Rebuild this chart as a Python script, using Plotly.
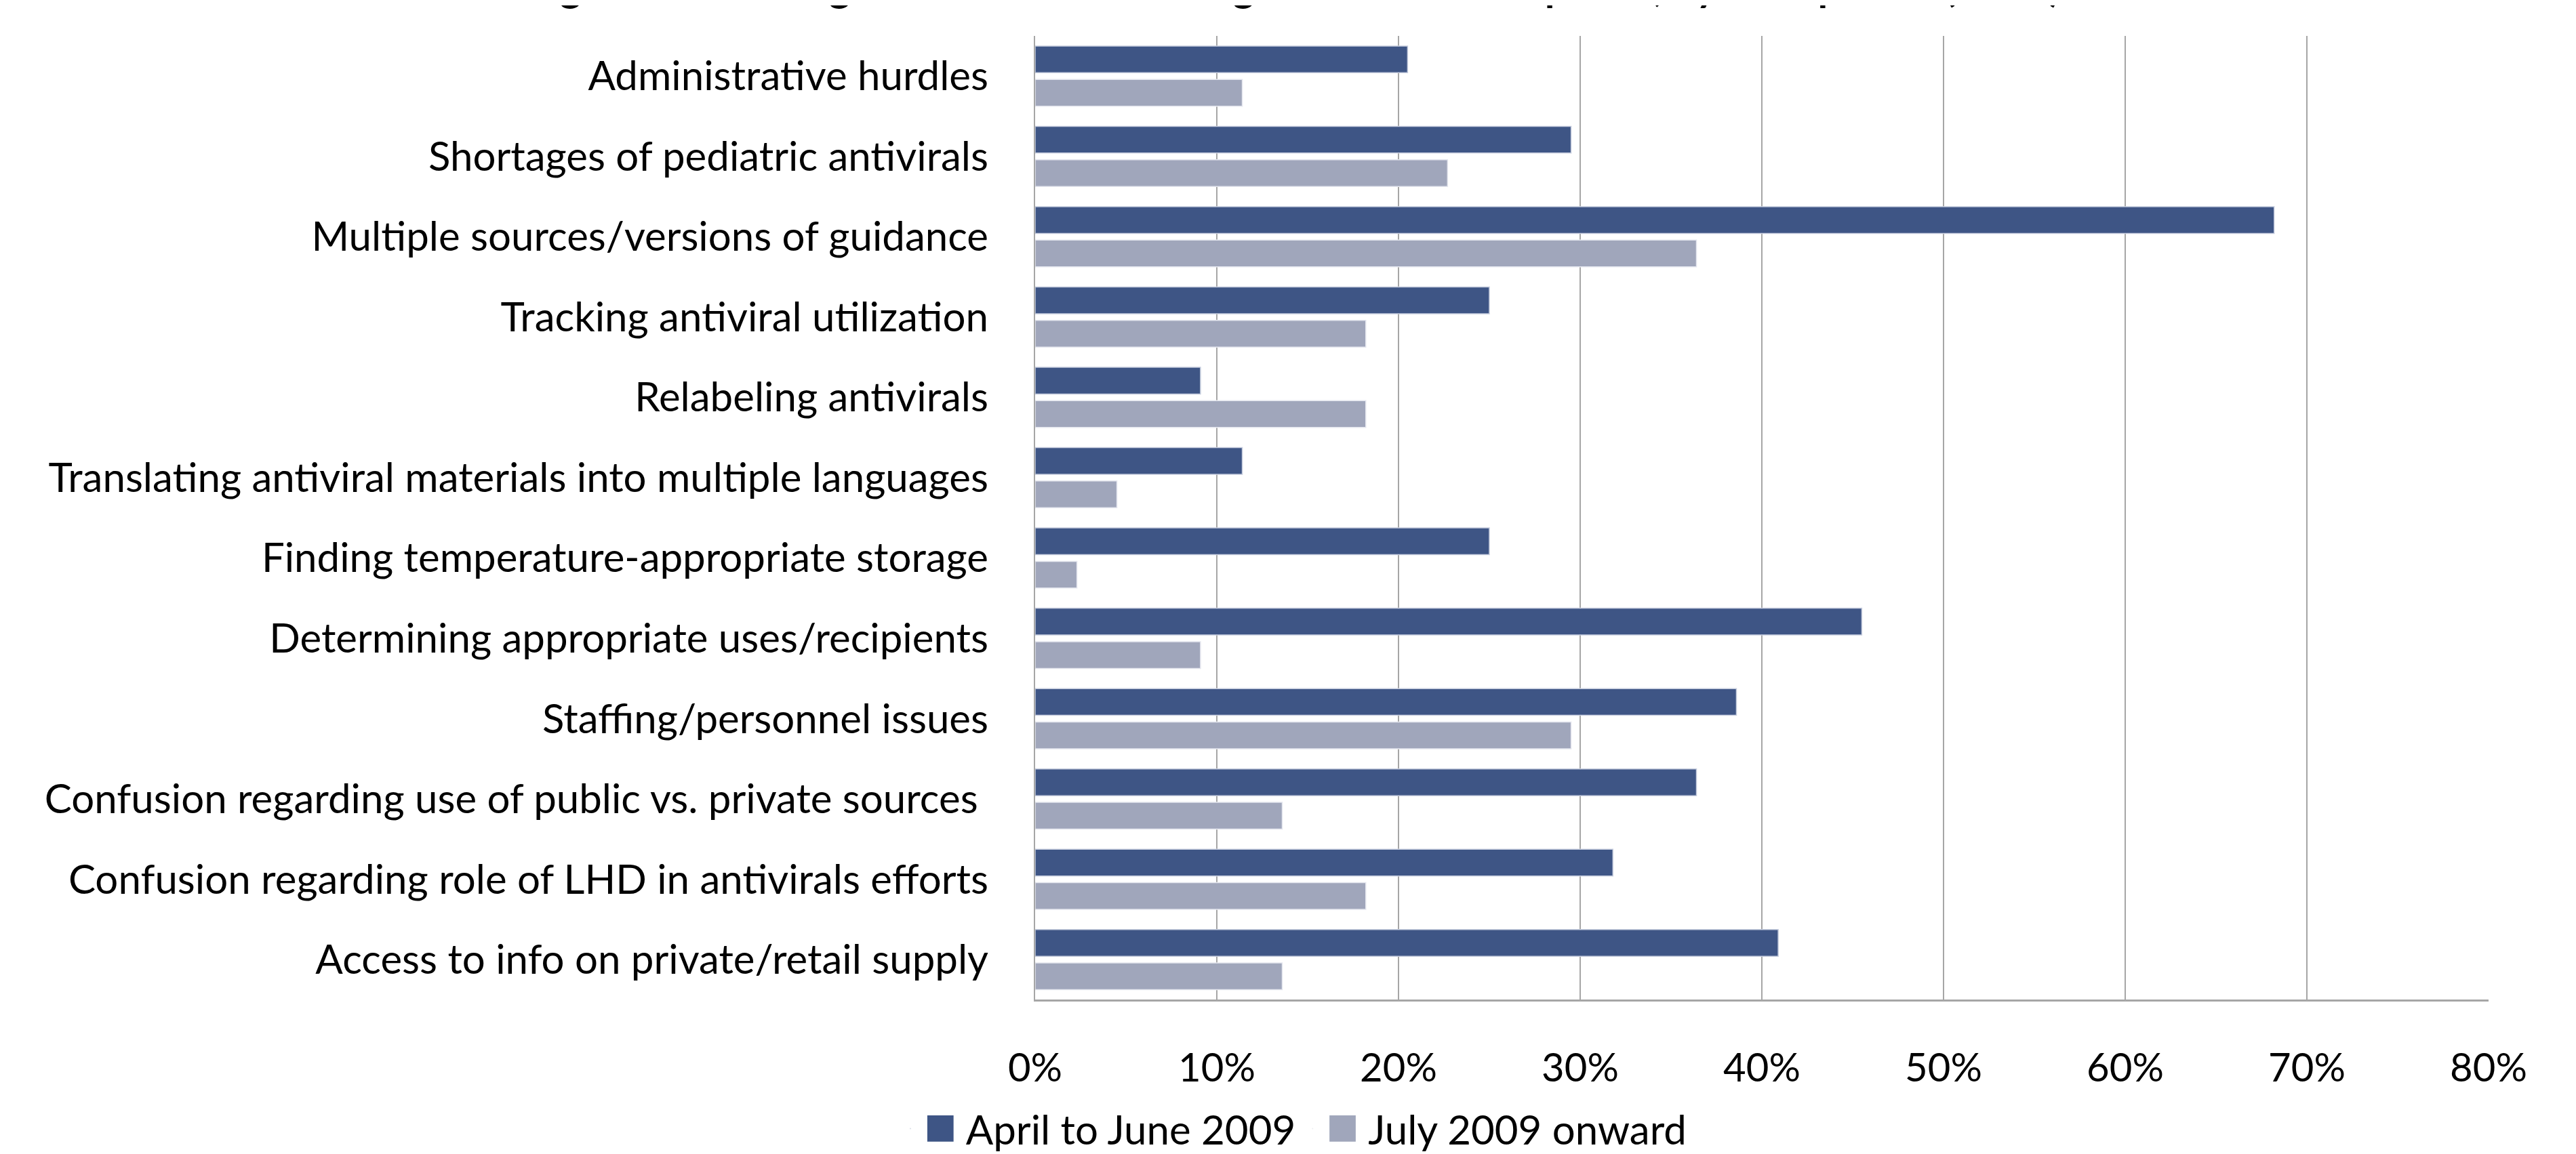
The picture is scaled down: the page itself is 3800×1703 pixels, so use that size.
import plotly.graph_objects as go

categories = [
    "Administrative hurdles",
    "Shortages of pediatric antivirals",
    "Multiple sources/versions of guidance",
    "Tracking antiviral utilization",
    "Relabeling antivirals",
    "Translating antiviral materials into multiple languages",
    "Finding temperature-appropriate storage",
    "Determining appropriate uses/recipients",
    "Staffing/personnel issues",
    "Confusion regarding use of public vs. private sources ",
    "Confusion regarding role of LHD in antivirals efforts",
    "Access to info on private/retail supply",
]
series_names = ["April to June 2009", "July 2009 onward"]
april_june = [20.5, 29.5, 68.2, 25.0, 9.1, 11.4, 25.0, 45.5, 38.6, 36.4, 31.8, 40.9]
july_on = [11.4, 22.7, 36.4, 18.2, 18.2, 4.5, 2.3, 9.1, 29.5, 13.6, 18.2, 13.6]
x_ticks = [0, 10, 20, 30, 40, 50, 60, 70, 80]
x_tick_labels = ["0%", "10%", "20%", "30%", "40%", "50%", "60%", "70%", "80%"]
title_text = "Figure 4. Challenges encountered during the antiviral response, by time period (n=44)"

DARK = "#3E5585"
LIGHT = "#A0A6BB"
FONT = "Lato"
W, H = 3800, 1703

fig = go.Figure()
fig.add_trace(go.Bar(y=categories, x=april_june, orientation="h", name=series_names[0],
                     marker=dict(color=DARK, line=dict(color="#C5CCDD", width=1.5)),
                     showlegend=False))
fig.add_trace(go.Bar(y=categories, x=july_on, orientation="h", name=series_names[1],
                     marker=dict(color=LIGHT, line=dict(color="#E4E6EE", width=1.5)),
                     showlegend=False))
# legend entries (large square glyphs like the original)
for nm, col in zip(series_names, [DARK, LIGHT]):
    fig.add_trace(go.Scatter(x=[None], y=[None], mode="markers",
                             marker=dict(size=1, opacity=0, color=col),
                             name=f"<span style='color:{col};font-size:80px'>■</span> {nm}"))

fig.update_layout(
    width=W, height=H,
    plot_bgcolor="white", paper_bgcolor="white",
    margin=dict(l=1519, r=137, t=45, b=215),
    barmode="group", bargap=0.168, bargroupgap=0.2,
    font=dict(family=FONT, size=60, color="black"),
    title=dict(text=title_text, font=dict(family=FONT, size=60, color="black", weight="bold"),
               x=0.5, xref="container", xanchor="center",
               y=1.0, yref="container", yanchor="bottom", pad=dict(b=6)),
    legend=dict(orientation="h", xref="container", x=0.5, xanchor="center",
                yref="container", y=-0.02, yanchor="bottom",
                font=dict(family=FONT, size=60), itemwidth=30,
                bgcolor="rgba(0,0,0,0)"),
)
fig.update_xaxes(range=[0, 80], tickvals=x_ticks, ticktext=x_tick_labels,
                 showgrid=True, gridcolor="#A6A6A6", gridwidth=2,
                 showline=True, linecolor="#A6A6A6", linewidth=3,
                 zeroline=False, ticks="", ticklabelstandoff=48,
                 tickfont=dict(family=FONT, size=58))
fig.update_yaxes(autorange="reversed", showgrid=False, showline=True,
                 linecolor="#A6A6A6", linewidth=2, ticks="",
                 ticklabelstandoff=55, tickfont=dict(family=FONT, size=60))

fig.write_html("out.html")
